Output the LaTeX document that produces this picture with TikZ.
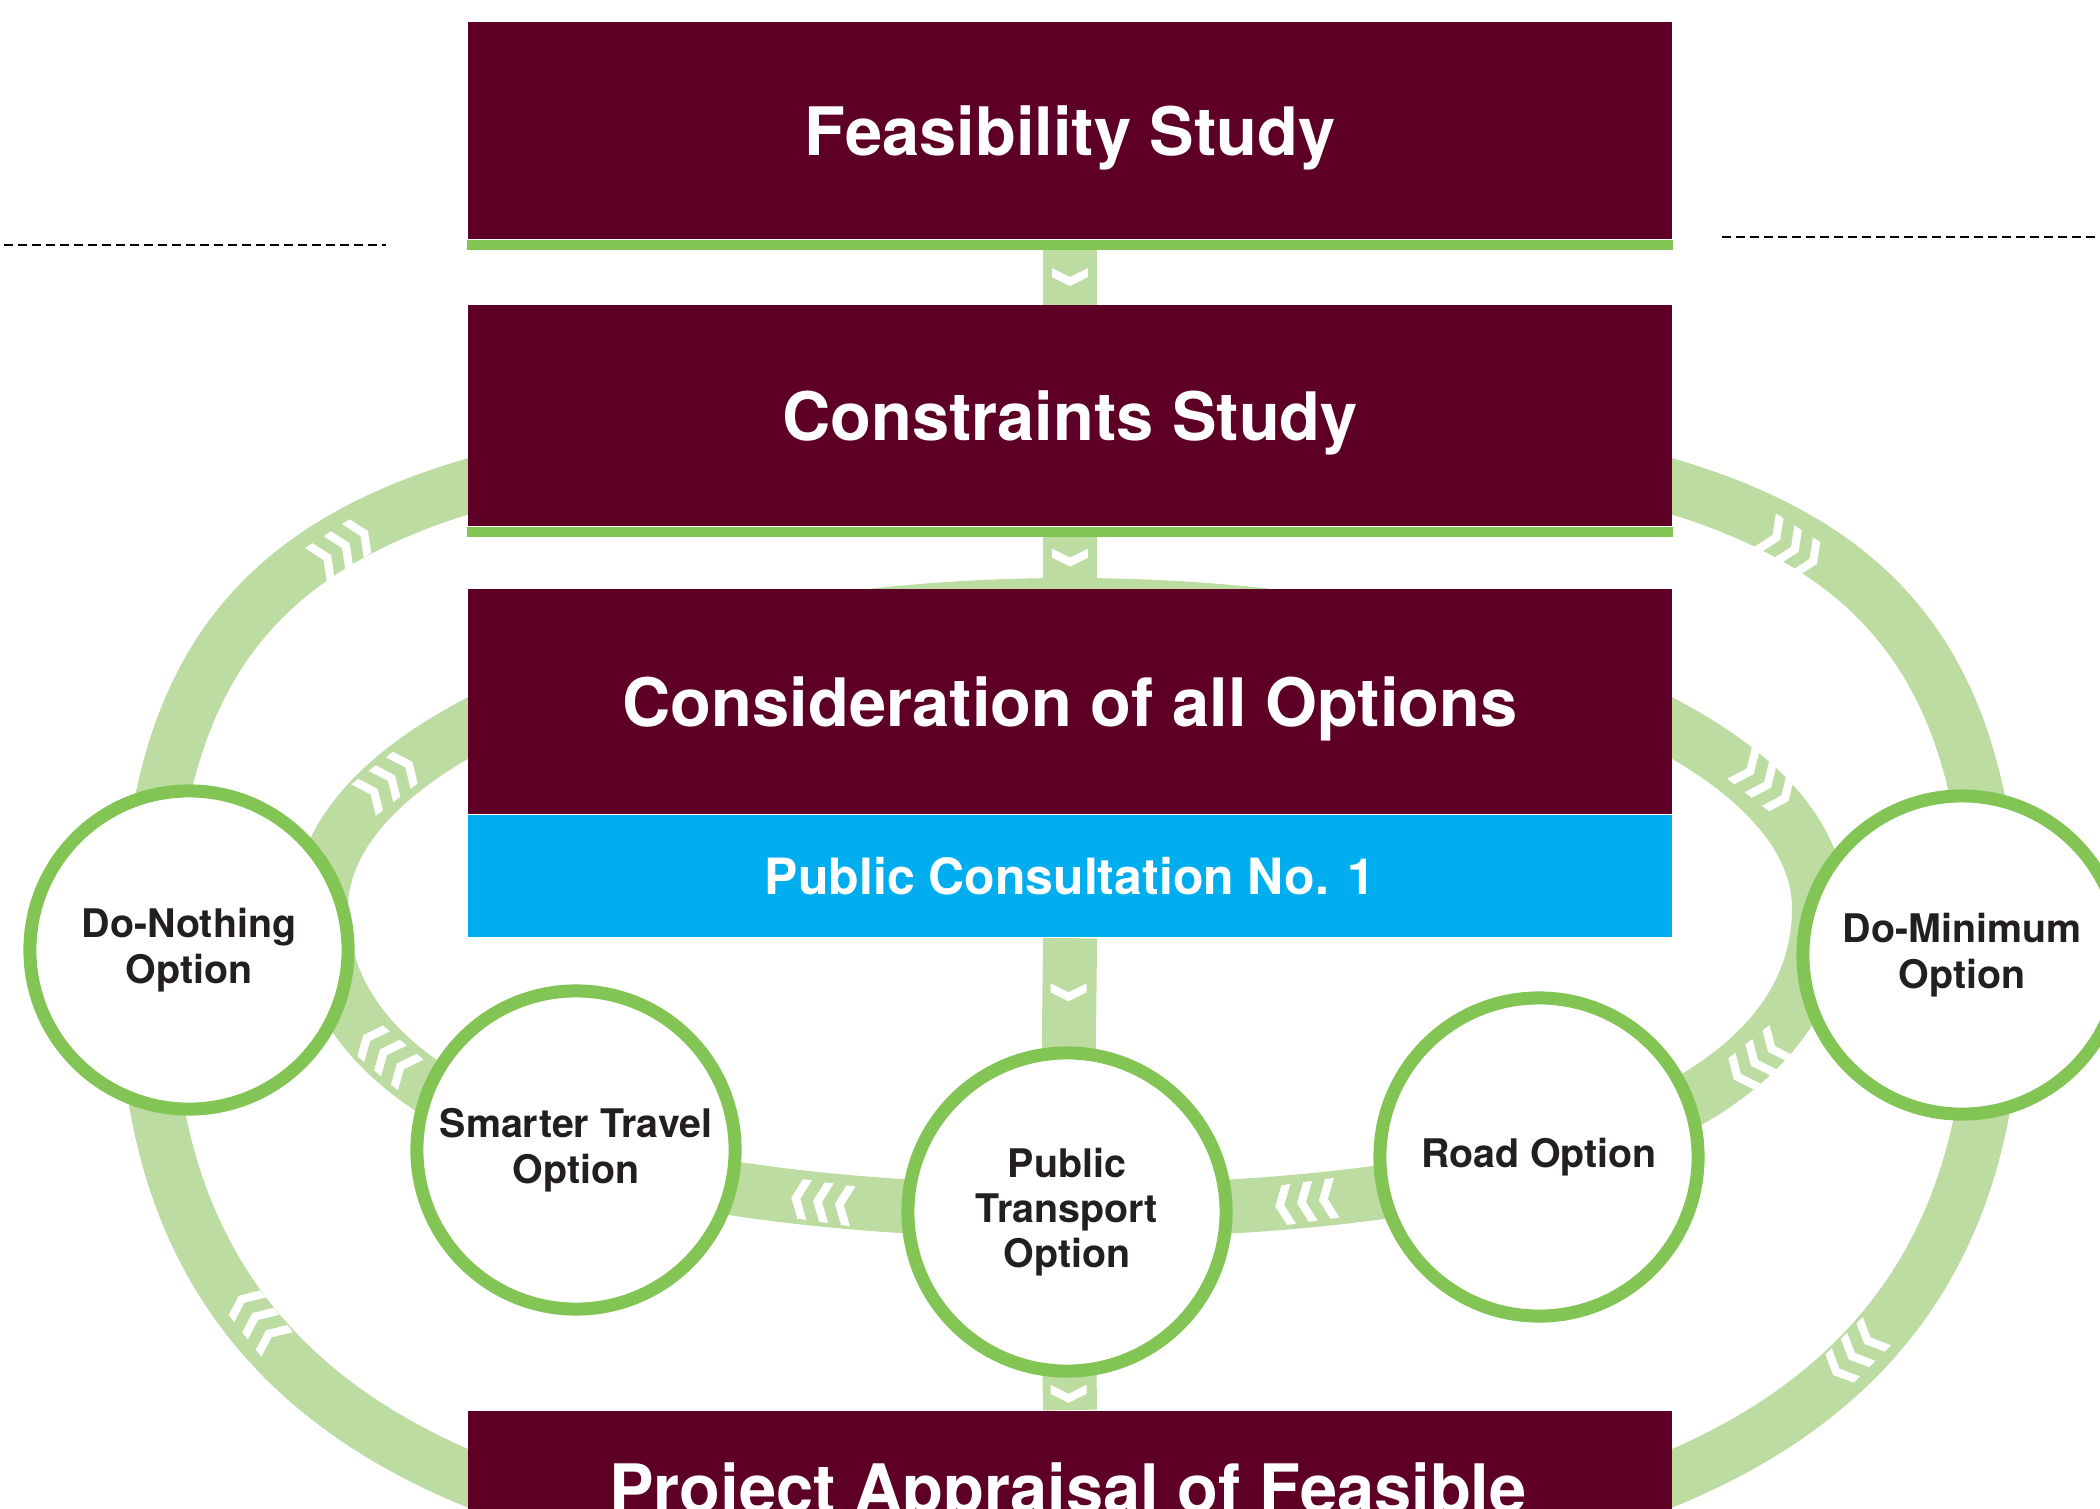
\documentclass[tikz,border=0pt]{standalone}
\usepackage{fontspec}
\setmainfont{TeX Gyre Heros}
\usetikzlibrary{calc,positioning}
\pgfdeclarelayer{back}
\pgfsetlayers{back,main}
\definecolor{wine}{RGB}{94,0,38}
\definecolor{leaf}{RGB}{131,197,85}
\definecolor{sage}{RGB}{188,220,162}
\definecolor{sky}{RGB}{0,174,239}
\definecolor{ink}{RGB}{35,31,32}

\begin{document}
\begin{tikzpicture}[x=0.01cm,y=-0.01cm]
    \tikzset{title/.style={text=white, font=\fontsize{19}{23}\selectfont\bfseries},
      stage/.style={title, fill=wine, inner sep=0pt, text depth=0pt,
        minimum width=12.04cm, minimum height=2.2cm},
      consult/.style={fill=sky, text=white, inner sep=0pt,
        minimum width=12.04cm, minimum height=1.22cm,
        font=\fontsize{14.2}{17}\selectfont\bfseries},
      option/.style={circle, draw=leaf, line width=0.13cm, fill=white,
        minimum size=3.18cm, inner sep=0pt, align=center, text=ink,
        font=\fontsize{11.2}{12.9}\selectfont\bfseries},
      ring/.style={draw=sage, line width=0.54cm},
      link/.style={draw=sage, line width=0.54cm},
      rule/.style={draw=black, line width=0.02cm, dash pattern=on 0.09cm off 0.05cm},
      downchev/.pic={\fill[white] (-18,-9) -- (0,0) -- (18,-9) -- (18,0) -- (0,9) -- (-18,0) -- cycle;},
      flow/.pic={\foreach \d in {-22,0,22}
          \fill[white] ({\d-9},-20) -- ({\d},-20) -- ({\d+9},0) -- ({\d},20) -- ({\d-9},20) -- ({\d},0) -- cycle;}}
    \useasboundingbox (0,0) rectangle (2100,1508);
    \clip (0,0) rectangle (2100,1508);

    \node[stage, anchor=north west, minimum height=2.17cm] (feas) at (467,21) {Feasibility Study};
    \node[stage, below=0.65cm of feas, minimum height=2.21cm] (cons) {Constraints Study};
    \node[stage, below=0.61cm of cons, minimum height=2.25cm] (opts) {Consideration of all Options};
    \node[consult, below=0pt of opts] (pc1) {Public Consultation No. 1};
    \node[stage, anchor=north west] (appr) at (467,1410) {};
    \node[title, anchor=base] (apprlbl) at (1068,1512) {Project Appraisal of Feasible};

    \node[option] (none) at (189,950) {Do-Nothing\\Option};
    \node[option] (smart) at (576,1150) {Smarter Travel\\Option};
    \node[option] (pt) at (1067,1212) {Public\\Transport\\Option};
    \node[option] (road) at (1539,1157) {Road Option};
    \node[option] (dmin) at (1962,955) {Do-Minimum\\Option};

    \begin{pgfonlayer}{back}
      \draw[ring] (1070,428) .. controls (1793,428) and (1994,548) .. (1994,980)
        .. controls (1994,1386) and (1706,1570) .. (1070,1570)
        .. controls (434,1570) and (146,1386) .. (146,980)
        .. controls (146,548) and (347,428) .. cycle;
      \draw[ring] (1070,605) .. controls (1484,605) and (1819,741) .. (1819,908)
        .. controls (1819,1102) and (1549,1211) .. (1070,1211)
        .. controls (591,1211) and (321,1102) .. (321,908)
        .. controls (321,741) and (656,605) .. cycle;
      \draw[link] (feas.south) -- (cons.north);
      \draw[link] (cons.south) -- (opts.north);
      \draw[link] (pc1.south) -- (pt.center);
      \draw[link] (pt.center) -- (appr.north);
    \end{pgfonlayer}

    \fill[leaf] (feas.south west) rectangle ($(feas.south east)+(0,10)$);
    \fill[leaf] (cons.south west) rectangle ($(cons.south east)+(0,10)$);

    \pic at ($(feas.south)!.5!(cons.north)+(0,5)$) {downchev};
    \pic at ($(cons.south)!.5!(opts.north)$) {downchev};
    \pic at ($(pc1.south)!.5!(pt.north)$) {downchev};
    \pic at ($(pt.south)!.5!(appr.north)$) {downchev};

    \pic[rotate=33] at (342,548) {flow};
    \pic[rotate=-33] at (1791,547) {flow};
    \pic[rotate=225] at (1855,1353) {flow};
    \pic[rotate=128] at (258,1320) {flow};
    \pic[rotate=38] at (388,781) {flow};
    \pic[rotate=-38] at (1764,782) {flow};
    \pic[rotate=219] at (1758,1060) {flow};
    \pic[rotate=188] at (1306,1202) {flow};
    \pic[rotate=172] at (822,1202) {flow};
    \pic[rotate=140] at (387,1055) {flow};

    \coordinate (lfrom) at (4,245);
    \coordinate (lto) at (386,245);
    \coordinate (rfrom) at (1722,237);
    \coordinate (rto) at (2100,237);
    \draw[rule] (lfrom) -- (lto);
    \draw[rule] (rfrom) -- (rto);
\end{tikzpicture}
\end{document}
